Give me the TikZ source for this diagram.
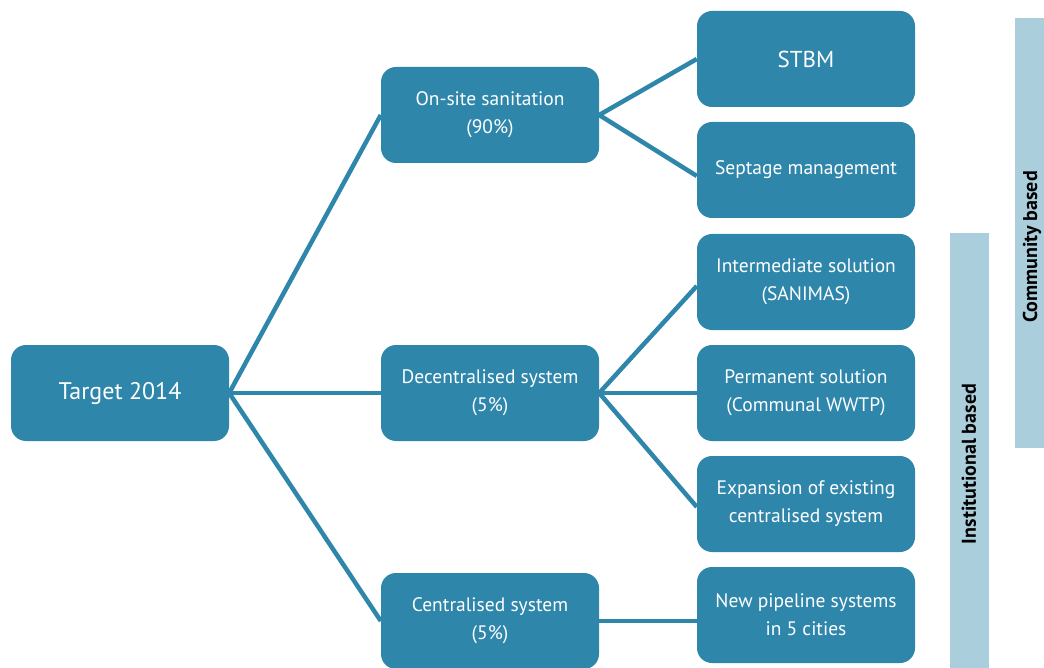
\documentclass[tikz,border=0pt]{standalone}
\usepackage{fontspec}
\setmainfont{PT Sans}
\definecolor{boxc}{RGB}{46,134,171}
\definecolor{barc}{RGB}{170,206,220}
\begin{document}
\begin{tikzpicture}[x=1pt,y=-1pt,
  box/.style={fill=boxc,rounded corners=15pt,minimum width=218pt,minimum height=96pt,
    text=white,align=center,inner sep=0pt,font=\fontsize{19.5}{28}\selectfont},
  conn/.style={draw=boxc,line width=4.5pt},
  barlabel/.style={rotate=90,font=\bfseries\fontsize{20}{24}\selectfont,text=black}]
\useasboundingbox (0,0) rectangle (1044,668);
\fill[barc] (1015,18) rectangle (1044,448);
\fill[barc] (950,233) rectangle (989,668);
\node[barlabel] (cb) at (1032,247) {Community based};
\node[barlabel] (ib) at (969,464) {Institutional based};
\node[box,font=\fontsize{24}{28}\selectfont] (t) at (120,393) {Target 2014};
\node[box] (os) at (490,115) {On-site sanitation\\(90\%)};
\node[box] (ds) at (490,393) {Decentralised system\\(5\%)};
\node[box] (cs) at (490,621) {Centralised system\\(5\%)};
\node[box,font=\fontsize{23}{28}\selectfont] (st) at (806,59) {STBM};
\node[box] (sm) at (806,170) {Septage management};
\node[box] (is) at (806,282) {Intermediate solution\\(SANIMAS)};
\node[box] (ps) at (806,393) {Permanent solution\\(Communal WWTP)};
\node[box] (ex) at (806,504) {Expansion of existing\\centralised system};
\node[box] (np) at (806,615) {New pipeline systems\\in 5 cities};
\draw[conn] (t.east) -- (os.west);
\draw[conn] (t.east) -- (ds.west);
\draw[conn] (t.east) -- (cs.west);
\draw[conn] (os.east) -- (st.west);
\draw[conn] (os.east) -- ([yshift=-6pt]sm.west);
\draw[conn] (ds.east) -- ([yshift=-4pt]is.west);
\draw[conn] (ds.east) -- (ps.west);
\draw[conn] (ds.east) -- ([yshift=-3pt]ex.west);
\draw[conn] (cs.east) -- (cs.east -| np.west);
\end{tikzpicture}
\end{document}
